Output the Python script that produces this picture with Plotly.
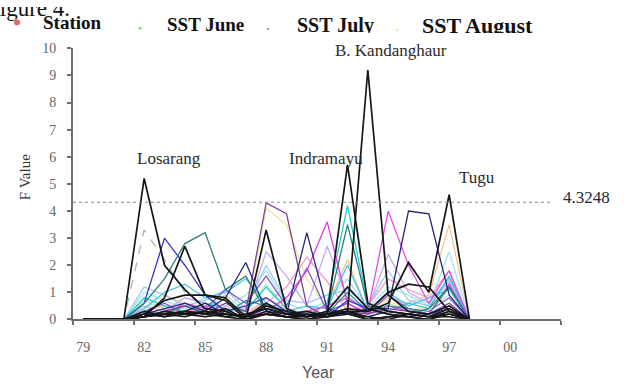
import plotly.graph_objects as go

# ---- data -------------------------------------------------------------
years = list(range(1979, 1999))

series = {
    "light green":  [0, 0, 0, 0.7, 0.4, 0.2, 0.5, 0.9, 0.3, 1.3, 0.4, 0.2, 0.5, 0.9, 0.2, 0.6, 0.3, 0.4, 0.9, 0],
    "pale yellow":  [0, 0, 0, 0.4, 0.9, 0.6, 0.3, 0.2, 0.1, 4.1, 3.5, 1.5, 0.4, 0.5, 0.2, 0.7, 0.3, 0.5, 1.5, 0],
    "tan":          [0, 0, 0, 0.3, 0.5, 0.4, 0.2, 0.3, 0.1, 0.8, 0.4, 0.2, 0.5, 2.2, 0.3, 0.8, 0.6, 0.9, 3.5, 0],
    "light cyan":   [0, 0, 0, 1.0, 0.7, 0.4, 0.8, 0.5, 0.9, 1.8, 0.6, 0.3, 0.7, 1.5, 0.4, 1.2, 0.9, 0.5, 2.5, 0],
    "light blue":   [0, 0, 0, 1.2, 0.9, 0.5, 0.7, 1.1, 0.4, 2.0, 0.7, 0.6, 0.9, 1.1, 0.5, 1.8, 0.7, 0.5, 1.4, 0],
    "lavender":     [0, 0, 0, 0.5, 0.3, 0.8, 0.6, 0.4, 0.2, 2.5, 1.6, 0.5, 2.7, 0.8, 0.4, 2.4, 1.0, 0.6, 1.5, 0],
    "pink":         [0, 0, 0, 0.2, 0.4, 0.3, 0.1, 0.5, 0.3, 0.6, 1.2, 2.3, 1.4, 0.3, 0.5, 1.5, 1.1, 0.8, 1.8, 0],
    "sky blue":     [0, 0, 0, 0.4, 1.0, 1.3, 0.8, 1.0, 1.5, 0.6, 0.3, 0.5, 0.4, 2.0, 0.3, 1.0, 0.5, 0.8, 1.1, 0],
    "grey dashed":  [0, 0, 0, 3.3, 2.2, 1.0, 0.5, 0.7, 0.2, 0.4, 0.2, 0.1, 0.2, 0.6, 0.2, 0.3, 0.2, 0.1, 0.5, 0],
    "cyan":         [0, 0, 0, 0.8, 0.5, 0.3, 0.6, 0.4, 0.3, 1.2, 0.4, 0.1, 0.6, 4.2, 0.5, 0.3, 0.6, 0.4, 1.6, 0],
    "violet":       [0, 0, 0, 0.3, 0.6, 0.2, 0.4, 1.1, 0.6, 1.6, 0.5, 1.9, 0.3, 0.6, 0.2, 0.9, 0.4, 0.3, 0.8, 0],
    "magenta A":    [0, 0, 0, 0.1, 0.2, 0.6, 0.4, 0.2, 0.1, 0.3, 0.8, 1.8, 3.6, 0.6, 0.2, 0.5, 0.3, 0.2, 1.3, 0],
    "magenta B":    [0, 0, 0, 0.2, 0.1, 0.3, 0.5, 0.3, 0.1, 0.2, 0.1, 0.3, 0.5, 0.8, 0.3, 4.0, 2.0, 0.6, 1.8, 0],
    "teal B":       [0, 0, 0, 0.3, 0.2, 0.5, 0.3, 0.2, 0.7, 0.5, 0.2, 0.3, 0.2, 1.0, 0.3, 0.5, 0.4, 0.2, 1.2, 0],
    "purple":       [0, 0, 0, 0.1, 0.3, 0.5, 0.2, 0.6, 0.3, 4.3, 3.9, 0.5, 0.1, 0.3, 0.2, 0.4, 0.3, 0.2, 0.6, 0],
    "blue":         [0, 0, 0, 0.6, 3.0, 2.0, 0.9, 0.3, 0.5, 0.8, 0.3, 0.2, 0.1, 0.7, 0.4, 0.2, 0.1, 0.2, 0.4, 0],
    "teal A":       [0, 0, 0, 0.6, 1.5, 2.8, 3.2, 1.1, 1.6, 0.3, 0.2, 0.1, 0.3, 3.5, 0.5, 0.3, 0.2, 0.4, 1.2, 0],
    "navy A":       [0, 0, 0, 0.2, 0.4, 0.6, 0.3, 0.8, 2.1, 0.3, 0.2, 3.2, 0.4, 0.2, 0.1, 0.3, 0.2, 0.1, 0.3, 0],
    "navy B":       [0, 0, 0, 0.1, 0.2, 0.3, 0.6, 0.2, 0.1, 0.4, 0.2, 0.1, 0.3, 0.2, 0.4, 0.4, 4.0, 3.9, 0.9, 0],
    "black wave":   [0, 0, 0, 0.2, 0.7, 0.9, 0.9, 0.8, 0.1, 0.6, 0.2, 0.1, 0.3, 1.2, 0.4, 0.2, 0.1, 0.0, 0.3, 0],
    "black curve":  [0, 0, 0, 0.1, 0.2, 0.1, 0.3, 0.2, 0.1, 0.2, 0.1, 0.1, 0.2, 0.4, 0.3, 1.0, 1.3, 1.2, 0.3, 0],
    "black 84":     [0, 0, 0, 0.1, 0.8, 2.7, 0.9, 0.7, 0.0, 0.3, 0.1, 0.2, 0.1, 0.3, 0.1, 0.0, 0.2, 0.1, 0.1, 0],
    "black 88":     [0, 0, 0, 0.1, 0.2, 0.3, 0.2, 0.4, 0.0, 3.3, 0.4, 0.1, 0.2, 0.3, 0.0, 0.1, 0.2, 0.1, 0.2, 0],
    "Losarang":     [0, 0, 0, 5.2, 2.0, 1.1, 0.4, 0.3, 0.0, 0.2, 0.1, 0.0, 0.1, 0.2, 0.0, 0.1, 0.1, 0.0, 0.2, 0],
    "Indramayu":    [0, 0, 0, 0.3, 0.1, 0.2, 0.1, 0.2, 0.1, 0.5, 0.3, 0.1, 0.2, 5.7, 0.6, 0.3, 0.2, 0.1, 0.4, 0],
    "B. Kandanghaur": [0, 0, 0, 0.1, 0.3, 0.2, 0.3, 0.1, 0.2, 0.4, 0.2, 0.3, 0.1, 0.3, 9.2, 0.9, 0.3, 0.2, 0.5, 0],
    "Tugu":         [0, 0, 0, 0.2, 0.1, 0.3, 0.2, 0.1, 0.0, 0.2, 0.1, 0.0, 0.2, 0.3, 0.3, 0.6, 2.1, 1.0, 4.6, 0],
}

colors = {
    "light green": "#b9e6b9", "pale yellow": "#efe49a", "tan": "#f2c48e",
    "light cyan": "#9fe6ee", "light blue": "#9cc6f2", "lavender": "#c6a8ee",
    "pink": "#f59ccd", "sky blue": "#4cc3ee", "grey dashed": "#9fb6c4",
    "cyan": "#1ccfd2", "violet": "#7a5ad6", "magenta A": "#e03be0",
    "magenta B": "#e24ee8", "teal B": "#2b9a9a", "purple": "#7d3f98",
    "blue": "#3535c8", "teal A": "#2d7f7a", "navy A": "#262a78",
    "navy B": "#22246e",
}

threshold = 4.3248
station_labels = ["Losarang", "Indramayu", "B. Kandanghaur", "Tugu"]
station_label_pos = [(1983.2, 5.95), (1990.95, 5.92), (1994.15, 9.93), (1998.35, 5.25)]

tick_years = [1979, 1982, 1985, 1988, 1991, 1994, 1997, 2000]
tick_text = ["79", "82", "85", "88", "91", "94", "97", "00"]

legend_items = ["Station", "SST June", "SST July", "SST August"]
legend_dot_colors = ["#e02020", "#44cc44", "#2f4fc0", "#efe0a8"]

SERIF = "Liberation Serif, Times New Roman, serif"
SANS = "Liberation Sans, Arial, sans-serif"
W, H = 630, 389
AXIS_GREY = "#6e6e6e"

fig = go.Figure()

# ---- lines --------------------------------------------------------------
for name, vals in series.items():
    is_black = name not in colors
    fig.add_trace(go.Scatter(
        x=years, y=vals, mode="lines", name=name,
        line=dict(color="#161616" if is_black else colors[name],
                  width=1.7 if is_black else 1.3,
                  dash="dash" if name == "grey dashed" else "solid"),
        cliponaxis=False, hoverinfo="skip", showlegend=False,
    ))

# threshold line
fig.add_trace(go.Scatter(
    x=[1978.5, 2002.05], y=[threshold, threshold], mode="lines",
    line=dict(color="#8a8a8a", width=1, dash="dot"),
    hoverinfo="skip", showlegend=False,
))

# ---- axes ---------------------------------------------------------------
fig.update_layout(
    width=W, height=H,
    margin=dict(l=0, r=0, t=0, b=0),
    paper_bgcolor="white", plot_bgcolor="white",
    showlegend=False,
    xaxis=dict(
        domain=[73 / W, 561 / W], range=[1978.5, 2002.5],
        showgrid=False, zeroline=False,
        showline=True, linecolor=AXIS_GREY, linewidth=2,
        tickmode="array", tickvals=tick_years, ticktext=tick_text,
        ticks="", ticklabelstandoff=14,
        tickfont=dict(family=SERIF, size=14, color="#666666"),
        minor=dict(tickmode="array",
                   tickvals=[y - 0.5 for y in tick_years] + [2002.5],
                   ticks="outside", ticklen=4, tickwidth=1.5, tickcolor=AXIS_GREY),
    ),
    yaxis=dict(
        domain=[(H - 325) / H, (H - 43) / H], range=[0, 10],
        showgrid=False, zeroline=False,
        showline=True, linecolor=AXIS_GREY, linewidth=2,
        tickmode="array", tickvals=list(range(0, 11)),
        ticks="outside", ticklen=4, tickwidth=1.5, tickcolor=AXIS_GREY,
        ticklabelstandoff=8,
        tickfont=dict(family=SERIF, size=14, color="#666666"),
    ),
    # band at the very top holding the cropped caption text
    xaxis3=dict(domain=[0, 1], range=[0, W], visible=False, anchor="y3"),
    yaxis3=dict(domain=[1 - 27 / H, 1], range=[27, 0], visible=False, anchor="x3"),
)

# ---- annotations -----------------------------------------------------------
for label, (lx, ly) in zip(station_labels, station_label_pos):
    fig.add_annotation(x=lx, y=ly, xref="x", yref="y", text=label, showarrow=False,
                       xanchor="center", yanchor="middle",
                       font=dict(family=SERIF, size=17, color="#2a2a2a"))

fig.add_annotation(x=586 / W, y=threshold, xref="paper", yref="y", text=f"{threshold}",
                   xanchor="center", yanchor="middle", yshift=5, showarrow=False,
                   font=dict(family=SERIF, size=17, color="#22283a"))

fig.add_annotation(x=25 / W, y=1 - 177 / H, xref="paper", yref="paper", text="F Value",
                   xanchor="center", yanchor="middle", textangle=-90, showarrow=False,
                   font=dict(family=SERIF, size=15, color="#333333"))
fig.add_annotation(x=318 / W, y=1 - 380 / H, xref="paper", yref="paper", text="Year",
                   xanchor="center", yanchor="middle", showarrow=False,
                   font=dict(family=SANS, size=16, color="#555555"))

# ---- cropped caption and legend row ----------------------------------------
fig.add_trace(go.Scatter(
    x=[-13], y=[3], mode="text", text=["Figure 4."], textposition="middle right",
    textfont=dict(family=SERIF, size=23, color="#111111"),
    xaxis="x3", yaxis="y3", cliponaxis=True, hoverinfo="skip", showlegend=False,
))
for item, lx, ly, fs in zip(legend_items, [43, 167, 297, 422], [18, 20, 21, 21],
                            [19, 19, 20, 22]):
    fig.add_trace(go.Scatter(
        x=[lx], y=[ly], mode="text", text=[f"<b>{item}</b>"], textposition="middle right",
        textfont=dict(family=SERIF, size=fs, color="#111111"),
        xaxis="x3", yaxis="y3", cliponaxis=True, hoverinfo="skip", showlegend=False,
    ))
fig.add_trace(go.Scatter(
    x=[17, 140, 268, 397], y=[16, 22, 23, 24], mode="markers",
    marker=dict(color=legend_dot_colors, size=[7, 4, 3, 4]),
    xaxis="x3", yaxis="y3", cliponaxis=True, hoverinfo="skip", showlegend=False,
))

fig.write_html("out.html", config={"displayModeBar": False})
